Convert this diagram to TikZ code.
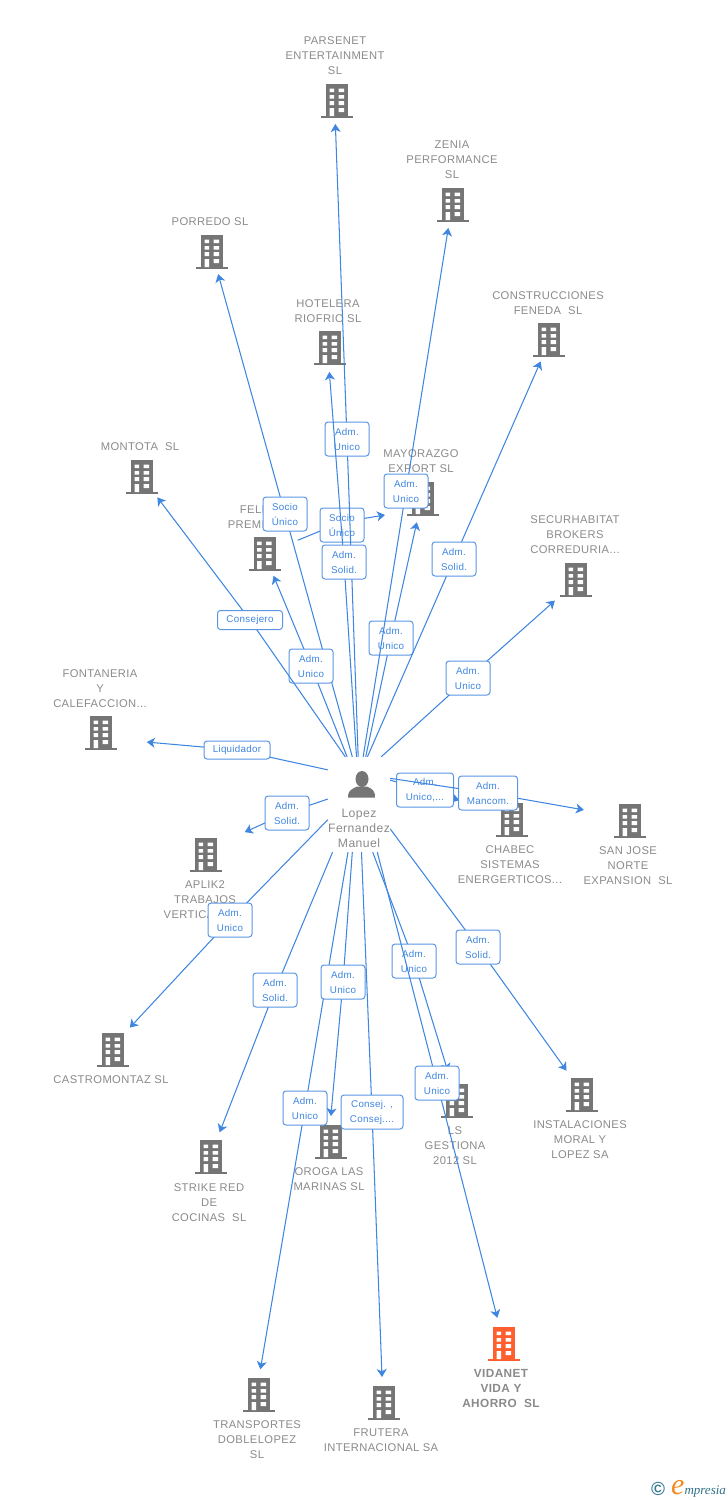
\documentclass[tikz,border=0pt]{standalone}
\usepackage{fontspec}
\setmainfont[LetterSpace=3.5]{Liberation Sans}
\newfontfamily\relfont[LetterSpace=3]{Liberation Sans}
\newfontfamily\logofont{Liberation Serif}
\usetikzlibrary{arrows.meta}
\definecolor{linkblue}{HTML}{3F86E0}
\definecolor{boxblue}{HTML}{5A96E3}
\definecolor{iconGrey}{HTML}{757575}
\definecolor{nameGrey}{HTML}{8A8A8A}
\definecolor{vidaOrange}{HTML}{FF5E2F}
\definecolor{logoBlue}{HTML}{3D7C98}
\definecolor{logoDark}{HTML}{2F6F86}
\definecolor{logoOrange}{HTML}{F58A1F}
\tikzset{
  bldg/.style={minimum width=34pt,minimum height=36pt,inner sep=0pt,path picture={
    \begin{scope}[shift={(path picture bounding box.center)}]
    \fill[#1] (-11,-17) rectangle (11,15);
    \fill[#1] (-16,15) rectangle (16,17);
    \fill[white] (-7.3,-12.3) rectangle (-3,-9) (1.7,-12.3) rectangle (7,-9);
    \fill[white] (-7.3,-6) rectangle (-3,-2.3) (1.7,-6) rectangle (7,-2.3);
    \fill[white] (-7.3,0) rectangle (-3,4) (1.7,0) rectangle (7,4);
    \fill[white] (-7.3,7) rectangle (-3,15) (1.7,7) rectangle (7,11);
    \end{scope}}},
  compname/.style={text=nameGrey,align=center,inner sep=0pt,yshift=-1pt,font=\fontsize{11.2}{15}\selectfont},
  conn/.style={draw=linkblue,line width=1.05pt,-{Stealth[length=8pt,width=10pt,inset=2.2pt]}},
  rel/.style={draw=boxblue,line width=1pt,fill=white,rounded corners=3pt,text=linkblue,align=center,
    inner sep=0pt,minimum width=44pt,minimum height=34pt,font=\relfont\fontsize{9.8}{15}\selectfont},
}
\begin{document}
\begin{tikzpicture}[x=1pt,y=-1pt]
\useasboundingbox (0,0) rectangle (728,1500);

% companies
\node[bldg=iconGrey] (parsenet) at (337,101) {};
\node[compname] (parsenet-t) at (335,55) {PARSENET\\ENTERTAINMENT\\SL};
\node[bldg=iconGrey] (zenia) at (453,205) {};
\node[compname] (zenia-t) at (452,159) {ZENIA\\PERFORMANCE\\SL};
\node[bldg=iconGrey] (porredo) at (212,252) {};
\node[compname] (porredo-t) at (210,221) {PORREDO SL};
\node[bldg=iconGrey] (hotelera) at (330,348) {};
\node[compname] (hotelera-t) at (328,310.5) {HOTELERA\\RIOFRIO SL};
\node[bldg=iconGrey] (construcciones) at (549,340) {};
\node[compname] (construcciones-t) at (548,302.5) {CONSTRUCCIONES\\FENEDA\ \ SL};
\node[bldg=iconGrey] (mayorazgo) at (423,499) {};
\node[compname] (mayorazgo-t) at (421,460.5) {MAYORAZGO\\EXPORT SL};
\node[bldg=iconGrey] (montota) at (142,477) {};
\node[compname] (montota-t) at (140,446) {MONTOTA\ \ SL};
\node[bldg=iconGrey] (feli) at (264.5,554) {};
\node[compname,anchor=east,align=right] (feli-t) at (265,516) {FELI\\PREMI};
\node[bldg=iconGrey] (securhabitat) at (576,580) {};
\node[compname] (securhabitat-t) at (575,534) {SECURHABITAT\\BROKERS\\CORREDURIA...};
\node[bldg=iconGrey] (fontaneria) at (101,733) {};
\node[compname] (fontaneria-t) at (100,688) {FONTANERIA\\Y\\CALEFACCION...};
\node[bldg=iconGrey] (sanjose) at (630,821) {};
\node[compname] (sanjose-t) at (628,865) {SAN JOSE\\NORTE\\EXPANSION\ \ SL};
\node[bldg=iconGrey] (chabec) at (512,820) {};
\node[compname] (chabec-t) at (510,864) {CHABEC\\SISTEMAS\\ENERGERTICOS...};
\node[bldg=iconGrey] (aplik) at (206,855) {};
\node[compname] (aplik-t) at (205,899) {APLIK2\\TRABAJOS\\VERTICA\hspace*{32pt}};
\node[bldg=iconGrey] (castromontaz) at (113,1050) {};
\node[compname] (castromontaz-t) at (111,1079) {CASTROMONTAZ SL};
\node[bldg=iconGrey] (strike) at (211,1157) {};
\node[compname] (strike-t) at (209,1202) {STRIKE RED\\DE\\COCINAS\ \ SL};
\node[bldg=iconGrey] (oroga) at (331,1142) {};
\node[compname] (oroga-t) at (329,1178.5) {OROGA LAS\\MARINAS SL};
\node[bldg=iconGrey] (gestiona) at (457,1101) {};
\node[compname] (gestiona-t) at (455,1145) {LS\\GESTIONA\\2012 SL};
\node[bldg=iconGrey] (instalaciones) at (582,1095) {};
\node[compname] (instalaciones-t) at (580,1139) {INSTALACIONES\\MORAL Y\\LOPEZ SA};
\node[bldg=vidaOrange] (vidanet) at (504,1344) {};
\node[compname,font=\bfseries\fontsize{11.8}{15}\selectfont] (vidanet-t) at (501,1387) {VIDANET\\VIDA Y\\AHORRO\ \ SL};
\node[bldg=iconGrey] (transportes) at (259,1395) {};
\node[compname] (transportes-t) at (257,1439) {TRANSPORTES\\DOBLELOPEZ\\SL};
\node[bldg=iconGrey] (frutera) at (384,1403) {};
\node[compname] (frutera-t) at (381,1439.5) {FRUTERA\\INTERNACIONAL SA};

% the person
\node[minimum width=62pt,minimum height=95pt,inner sep=0pt,path picture={
  \begin{scope}[shift={(path picture bounding box.center)}]
  \fill[iconGrey] (3,-25.5) ellipse (6.5 and 8);
  \fill[iconGrey] (-11,-7) .. controls (-11,-14) and (-8,-15) .. (-2,-18) -- (8,-18) .. controls (14,-15) and (16,-14) .. (16,-7) -- cycle;
  \end{scope}}] (person) at (359,804.5) {};
\node[compname,font=\fontsize{12.2}{15}\selectfont] (person-t) at (359,827) {Lopez\\Fernandez\\Manuel};

% relations going up
\coordinate (l1) at (311,666);
\coordinate (l2) at (285,514);
\draw[conn,shorten >=23pt] (person.98.4) -- (l2) -- (porredo.center);
\node[rel] (r2) at (l2) {Socio\\Único};
\draw[conn,shorten >=23.6pt] (person.104.2) -- (l1) -- (feli.center);
\node[rel] (r1) at (l1) {Adm.\\Unico};
\coordinate (l3) at (250,620);
\draw[conn,shorten >=25.5pt] (person.106.4) -- (l3) -- (montota.center);
\node[rel,minimum width=65pt,minimum height=19pt] (r3) at (l3) {Consejero};
\coordinate (l4) at (391,638);
\draw[conn,shorten >=23.8pt] (person.82.8) -- (l4) -- ([xshift=-1pt]mayorazgo.center);
\node[rel] (r4) at (l4) {Adm.\\Unico};
\coordinate (l5) at (342,522);
\coordinate (t5) at (385,515);
\draw[conn,shorten <=36pt] (feli.center) -- (l5) -- (t5);
\node[rel] (r5) at (342,525) {Socio\\Único};
\coordinate (l6) at (347,439);
\draw[conn,shorten >=23pt] (person.91.2) -- (l6) -- ([xshift=-2.5pt]parsenet.center);
\node[rel] (r6) at (l6) {Adm.\\Unico};
\coordinate (l7) at (344,562);
\draw[conn,shorten >=24pt] (person.93.6) -- (l7) -- ([xshift=-2.5pt]hotelera.center);
\node[rel] (r7) at (l7) {Adm.\\Solid.};
\coordinate (l8) at (406,491);
\draw[conn,shorten >=23.3pt] (person.85.2) -- (l8) -- ([xshift=-1pt]zenia.center);
\node[rel] (r8) at (l8) {Adm.\\Unico};
\coordinate (l9) at (454,559);
\draw[conn,shorten >=23.4pt] (person.80.4) -- (l9) -- ([xshift=1pt]construcciones.center);
\node[rel] (r9) at (l9) {Adm.\\Solid.};
\coordinate (l10) at (468,678);
\draw[conn,shorten >=31pt] (person.65.1) -- (l10) -- ([xshift=2pt]securhabitat.center);
\node[rel] (r10) at (l10) {Adm.\\Unico};

% left and right
\coordinate (l11) at (237,750);
\draw[conn,shorten >=46pt] (person.132.8) -- (l11) -- ([yshift=-5pt]fontaneria.center);
\node[rel,minimum width=66pt,minimum height=18pt] (r11) at (l11) {Liquidador};
\coordinate (l12) at (425,790);
\draw[conn,shorten >=55pt] (person.38.3) -- (l12) -- ([yshift=4pt]chabec.center);
\node[rel,minimum width=57pt] (r12) at (l12) {Adm.\\Unico,...};
\coordinate (l13) at (488,793);
\draw[conn,shorten >=46.8pt] (person.40.5) -- (l13) -- ([yshift=3pt]sanjose.center);
\node[rel,minimum width=59pt] (r13) at (l13) {Adm.\\Mancom.};
\coordinate (l14) at (287,813);
\draw[conn,shorten >=45.8pt] (person.170) -- (l14) -- ([xshift=-3pt,yshift=4pt]aplik.center);
\node[rel] (r14) at (l14) {Adm.\\Solid.};

% relations going down
\coordinate (l15) at (230,920);
\draw[conn,shorten >=30.5pt] (person.206.6) -- (l15) -- ([xshift=-4pt]castromontaz.center);
\node[rel] (r15) at (l15) {Adm.\\Unico};
\coordinate (l16) at (275,990);
\draw[conn,shorten >=26.5pt] (person.241.3) -- (l16) -- ([xshift=-1pt]strike.center);
\node[rel] (r16) at (l16) {Adm.\\Solid.};
\coordinate (l17) at (305,1108);
\draw[conn,shorten >=26pt] (person.257) -- (l17) -- ([xshift=-3pt]transportes.center);
\node[rel] (r17) at (l17) {Adm.\\Unico};
\coordinate (l18) at (343,982);
\draw[conn,shorten >=26pt] (person.262.8) -- (l18) -- ([xshift=-2.5pt]oroga.center);
\node[rel] (r18) at (l18) {Adm.\\Unico};
\coordinate (l19) at (372,1112);
\draw[conn,shorten >=26pt] (person.273.6) -- (l19) -- ([xshift=-1pt]frutera.center);
\node[rel,minimum width=62pt] (r19) at (l19) {Consej. ,\\Consej....};
\coordinate (l20) at (414,961);
\draw[conn,shorten >=31pt] (person.286.4) -- (l20) -- (gestiona.center);
\node[rel] (r20) at (l20) {Adm.\\Unico};
\coordinate (l21) at (437,1083);
\draw[conn,shorten >=27pt] (person.291.8) -- (l21) -- (vidanet.center);
\node[rel] (r21) at (l21) {Adm.\\Unico};
\coordinate (l22) at (478,947);
\draw[conn,shorten >=30pt] (person.322.8) -- (l22) -- ([xshift=2pt]instalaciones.center);
\node[rel] (r22) at (l22) {Adm.\\Solid.};

% logo
\node[text=logoBlue,inner sep=0pt,font=\bfseries\fontsize{19}{19}\selectfont] (logo-c) at (658,1488.5) {©};
\node[anchor=base west,inner sep=0pt,text=logoDark] (logo) at (671,1494) {\logofont\itshape{\color{logoOrange}\fontsize{30}{30}\selectfont e}\fontsize{13}{14}\selectfont mpresia};
\end{tikzpicture}
\end{document}
